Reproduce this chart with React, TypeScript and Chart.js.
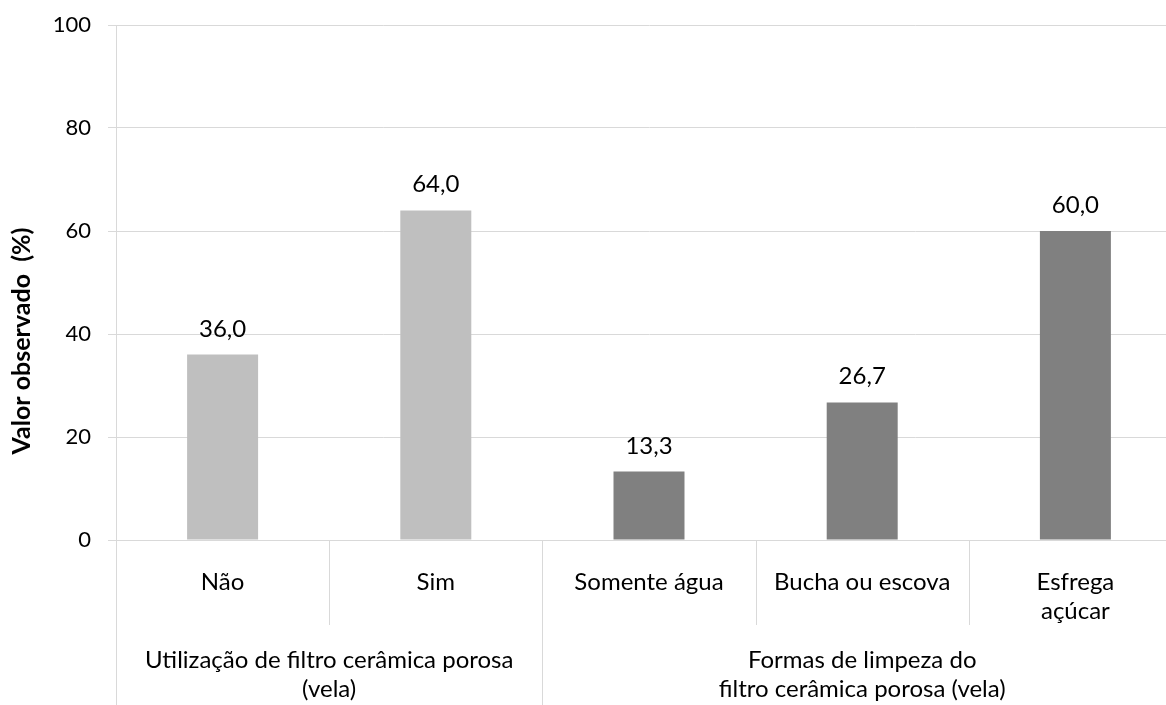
import React, { useEffect, useRef } from "react";
import { Chart, registerables } from "chart.js";

Chart.register(...registerables);

const categories: string[][] = [["Não"], ["Sim"], ["Somente água"], ["Bucha ou escova"], ["Esfrega", "açúcar"]];
const values: number[] = [36.0, 64.0, 13.3, 26.7, 60.0];
const barColors: string[] = ["#BFBFBF", "#BFBFBF", "#808080", "#808080", "#808080"];
const groupLabels: string[][] = [
  ["Utilização de filtro cerâmica porosa", "(vela)"],
  ["Formas de limpeza do", "filtro cerâmica porosa (vela)"],
];
const groupStarts: number[] = [0, 2];
const groupEnds: number[] = [1, 4];
const yTitle = "Valor observado  (%)";
const yMin = 0;
const yMax = 100;
const yStep = 20;

const FONT = "Lato, 'Open Sans', sans-serif";
const TEXT = "#000000";
const LINE = "#D9D9D9";

const overlay = {
  id: "overlay",
  afterDraw(chart: any) {
    const ctx = chart.ctx;
    const x = chart.scales.x;
    const area = chart.chartArea;
    const n = categories.length;
    const H = chart.height;
    const bound = (i: number) => {
      if (i <= 0) return area.left;
      if (i >= n) return area.right;
      return (x.getPixelForTick(i - 1) + x.getPixelForTick(i)) / 2;
    };
    ctx.save();
    ctx.strokeStyle = LINE;
    ctx.lineWidth = 1;
    for (let g = 0; g < groupStarts.length; g++) {
      for (let i = groupStarts[g] + 1; i <= groupEnds[g]; i++) {
        const px = Math.round(bound(i)) + 0.5;
        ctx.beginPath();
        ctx.moveTo(px, area.bottom);
        ctx.lineTo(px, area.bottom + 85);
        ctx.stroke();
      }
      const pl = Math.round(bound(groupStarts[g])) + 0.5;
      ctx.beginPath();
      ctx.moveTo(pl, area.bottom);
      ctx.lineTo(pl, H);
      ctx.stroke();
      const pr = Math.round(bound(groupEnds[g] + 1)) + 0.5;
      ctx.beginPath();
      ctx.moveTo(pr, area.bottom);
      ctx.lineTo(pr, H);
      ctx.stroke();
    }
    ctx.fillStyle = TEXT;
    ctx.font = `24px ${FONT}`;
    ctx.textAlign = "center";
    ctx.textBaseline = "middle";
    for (let g = 0; g < groupStarts.length; g++) {
      const cx = (bound(groupStarts[g]) + bound(groupEnds[g] + 1)) / 2;
      groupLabels[g].forEach((t, k) => {
        ctx.fillText(t, cx, area.bottom + 120 + k * 29);
      });
    }
    const meta = chart.getDatasetMeta(0);
    ctx.textBaseline = "alphabetic";
    meta.data.forEach((bar: any, i: number) => {
      ctx.fillText(values[i].toFixed(1).replace(".", ","), bar.x, bar.y - 18);
    });
    ctx.font = `bold 25px ${FONT}`;
    ctx.translate(22, 341);
    ctx.rotate(-Math.PI / 2);
    ctx.textBaseline = "middle";
    ctx.fillText(yTitle, 0, 0);
    ctx.restore();
  },
};

export default function App() {
  const ref = useRef<HTMLCanvasElement>(null);
  useEffect(() => {
    const canvas = ref.current!;
    const chart = new Chart(canvas, {
      type: "bar",
      data: {
        labels: categories,
        datasets: [
          {
            data: values,
            backgroundColor: barColors,
            borderWidth: 0,
            categoryPercentage: 1,
            barPercentage: 0.333,
          },
        ],
      },
      options: {
        responsive: false,
        animation: false,
        devicePixelRatio: 1,
        layout: { padding: { left: 0, top: 25, right: 18, bottom: 0 } },
        plugins: { legend: { display: false }, tooltip: { enabled: false } },
        scales: {
          x: {
            grid: { display: false },
            border: { display: true, color: LINE },
            ticks: { color: TEXT, font: { family: FONT, size: 24 }, padding: 20, maxRotation: 0, autoSkip: false },
            afterFit: (s: any) => {
              s.height = 165;
              s.paddingLeft = 0;
              s.paddingRight = 0;
            },
          },
          y: {
            min: yMin,
            max: yMax,
            ticks: { stepSize: yStep, color: TEXT, font: { family: FONT, size: 22 }, padding: 17 },
            grid: { color: LINE, tickLength: 8 },
            border: { display: true, color: LINE },
            afterFit: (s: any) => {
              s.width = 116;
              s.paddingTop = 0;
              s.paddingBottom = 0;
            },
          },
        },
      },
      plugins: [overlay],
    });
    return () => chart.destroy();
  }, []);
  return (
    <div style={{ position: "fixed", left: 0, top: 0, width: 1166, height: 705, overflow: "hidden", background: "#fff" }}>
      <canvas ref={ref} width={1200} height={705} style={{ display: "block", width: 1200, height: 705 }} />
    </div>
  );
}
